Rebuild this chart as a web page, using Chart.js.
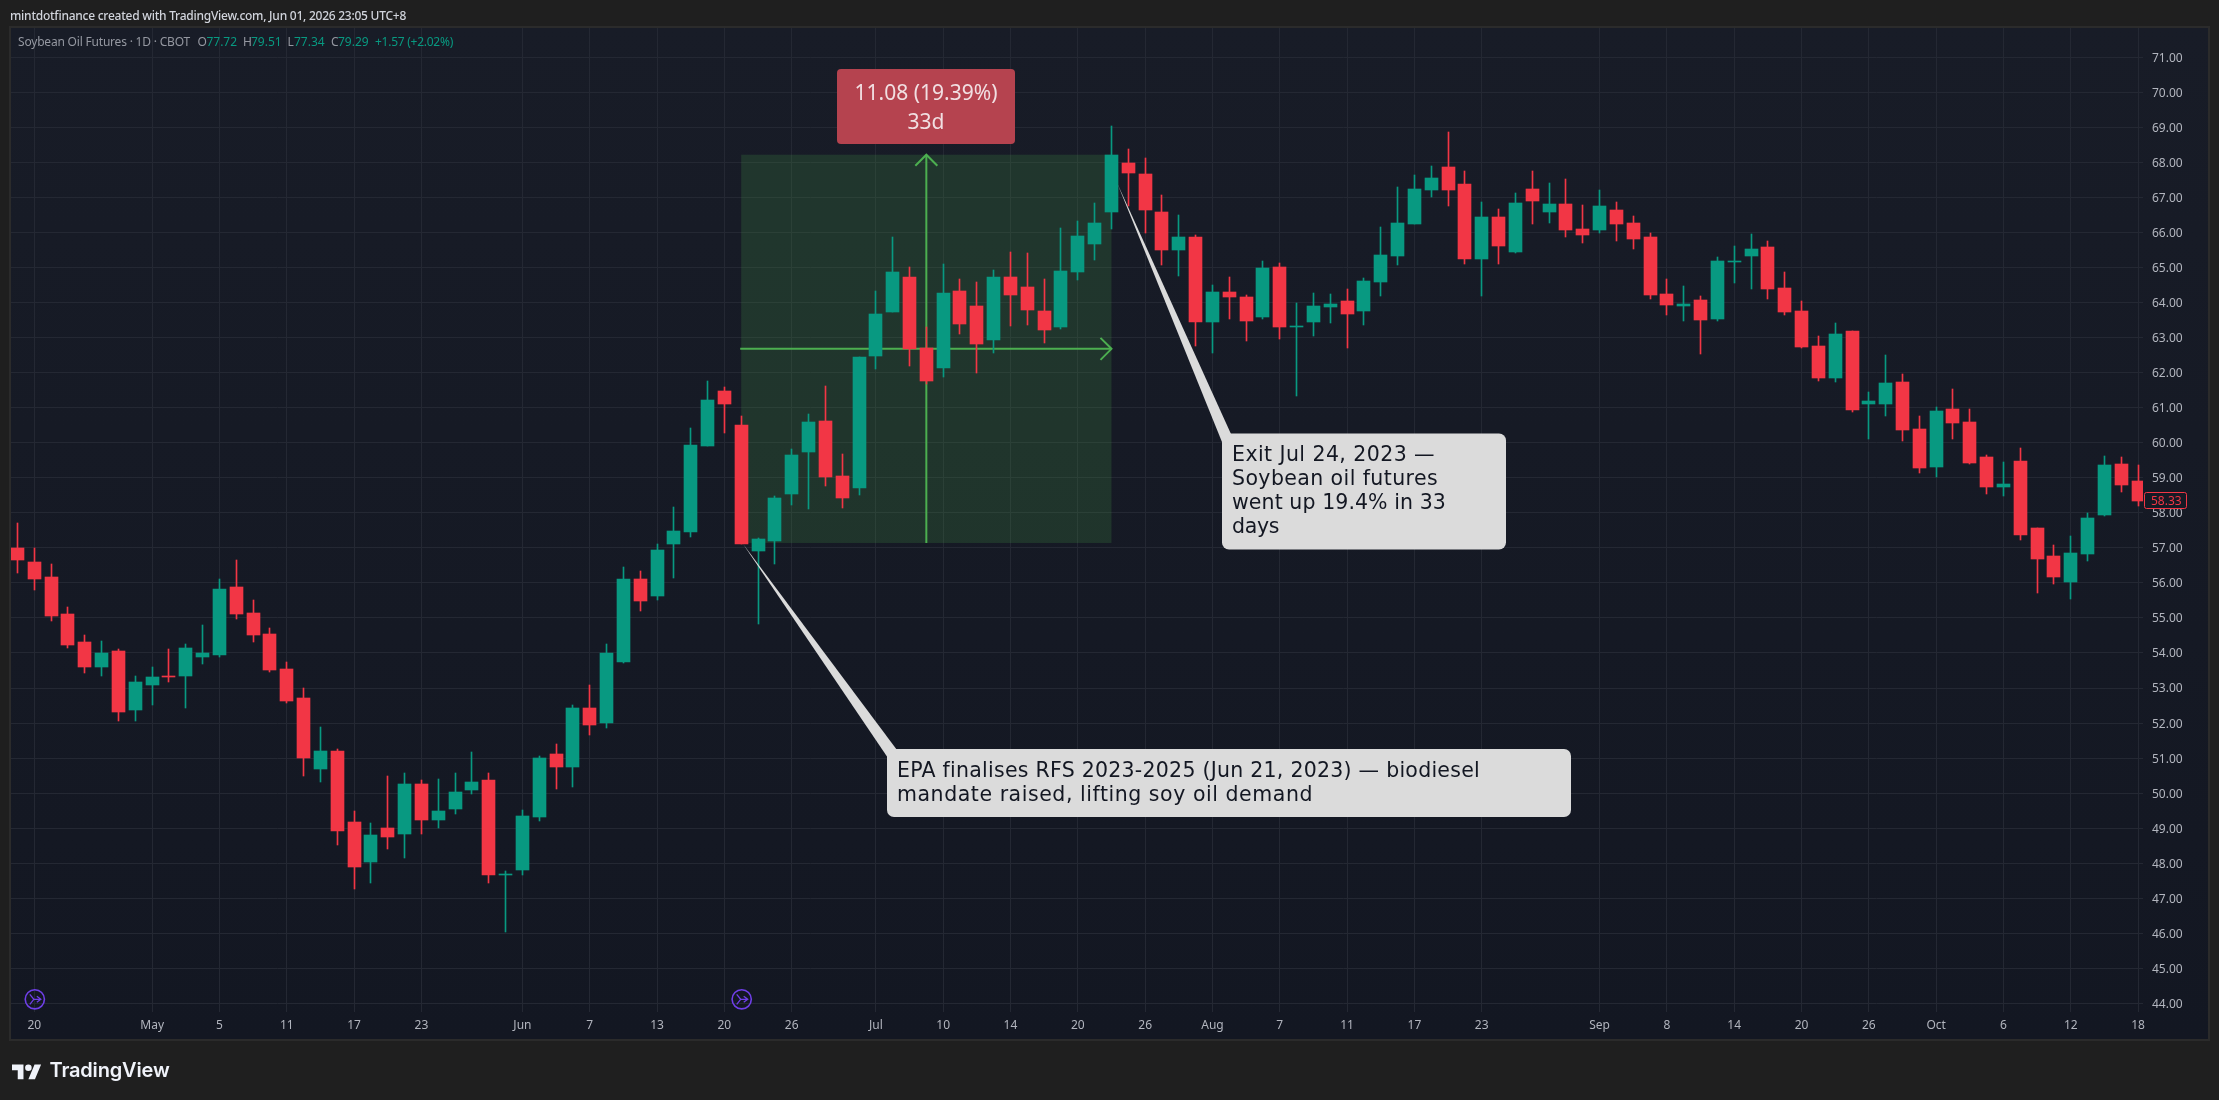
<!DOCTYPE html>
<html><head><meta charset="utf-8">
<style>html,body{margin:0;padding:0;background:#1f1f1f;overflow:hidden}#wrap{width:2219px;height:1100px;position:relative}canvas{display:block}</style>
<script src="https://cdn.jsdelivr.net/npm/chart.js@4"></script>
</head><body><div id="wrap"><canvas id="c" width="2219" height="1100"></canvas></div>
<script>
const opens=[57.01,56.61,56.18,55.10,54.30,53.61,54.07,52.38,53.10,53.33,53.35,53.90,53.95,55.87,55.15,54.55,53.55,52.72,50.70,51.21,49.18,48.04,49.01,48.84,50.27,49.24,49.55,50.10,50.38,47.67,47.81,49.32,51.12,50.75,52.44,52.01,53.75,56.10,55.64,57.10,57.44,59.92,61.47,60.50,56.92,57.19,58.53,59.73,60.62,59.05,58.70,62.47,63.73,64.73,62.70,62.13,64.33,63.90,62.93,64.73,64.44,63.76,63.30,64.87,65.67,66.58,67.98,67.67,66.58,65.50,65.87,63.44,64.30,64.16,63.59,65.01,63.30,63.44,63.87,64.04,63.76,64.59,65.33,66.24,67.21,67.87,67.38,65.24,66.44,65.44,67.24,66.58,66.81,66.10,66.07,66.64,66.27,65.87,64.24,63.90,64.07,63.53,65.16,65.33,65.58,64.41,63.76,62.76,61.85,63.19,61.10,61.10,61.73,60.39,59.30,60.96,60.59,59.59,58.73,59.48,57.56,56.76,56.02,56.82,57.93,59.39,58.90];
const highs=[57.72,57.01,56.55,55.30,54.50,54.35,54.12,53.35,53.61,54.12,54.27,54.81,56.10,56.64,55.50,54.72,53.75,53.01,51.90,51.27,49.50,49.15,50.50,50.58,50.38,50.41,50.58,51.18,50.58,47.79,49.52,51.07,51.41,52.52,53.10,54.27,56.44,56.35,57.10,58.18,60.41,61.75,61.58,60.75,57.29,58.48,59.82,60.82,61.62,59.67,62.45,64.33,65.87,65.01,63.30,65.10,64.67,64.58,64.93,65.44,65.41,64.67,66.13,66.33,66.84,69.04,68.38,68.12,67.07,66.50,65.93,64.50,64.73,64.21,65.18,65.13,63.99,64.27,64.24,64.38,64.70,66.16,67.30,67.64,67.90,68.87,67.75,66.87,66.67,67.13,67.75,67.41,67.53,66.78,67.21,66.87,66.47,65.98,64.67,64.47,64.19,65.31,65.62,65.96,65.76,64.87,64.04,63.05,63.42,63.19,61.45,62.50,61.96,60.76,61.02,61.53,60.96,59.65,59.45,59.85,57.56,57.08,57.33,57.99,59.62,59.59,59.36];
const lows=[56.27,55.81,54.90,54.15,53.44,53.35,52.07,52.07,52.52,53.18,52.44,53.70,53.90,54.98,54.30,53.47,52.58,50.50,50.32,48.52,47.27,47.44,48.41,48.15,48.84,49.01,49.41,49.98,47.44,46.04,47.67,49.21,50.12,50.18,51.67,51.87,53.72,55.21,55.50,56.15,57.32,59.92,60.27,57.10,54.84,56.55,58.22,58.10,58.76,58.13,58.50,62.10,63.72,62.19,61.67,61.87,63.10,61.99,62.56,63.33,63.36,62.84,63.24,64.64,65.21,66.10,66.75,65.98,65.07,64.76,62.76,62.56,63.53,62.90,63.53,62.96,61.33,63.04,63.41,62.70,63.36,64.19,65.07,66.24,67.01,66.75,65.10,64.19,65.10,65.41,66.24,66.27,65.87,65.70,65.98,65.76,65.53,64.10,63.64,63.47,62.53,63.47,64.56,64.39,64.10,63.64,62.70,61.76,61.73,60.88,60.10,60.76,60.05,59.13,59.02,60.10,59.39,58.53,58.48,57.22,55.70,55.96,55.53,56.62,57.90,58.59,58.19];
const closes=[56.64,56.10,55.07,54.24,53.61,54.01,52.32,53.18,53.32,53.31,54.15,54.00,55.84,55.12,54.52,53.52,52.64,51.01,51.21,48.92,47.90,48.81,48.75,50.27,49.24,49.50,50.04,50.32,47.67,47.70,49.35,51.01,50.75,52.44,51.95,54.01,56.10,55.47,56.95,57.47,59.95,61.21,61.12,57.12,57.24,58.42,59.65,60.59,59.02,58.42,62.44,63.67,64.87,62.67,61.76,64.27,63.39,62.81,64.73,64.21,63.79,63.21,64.90,65.90,66.27,68.21,67.70,66.64,65.50,65.87,63.44,64.30,64.16,63.47,64.98,63.30,63.33,63.90,63.96,63.67,64.61,65.36,66.27,67.24,67.55,67.21,65.24,66.44,65.61,66.84,66.90,66.81,66.07,65.93,66.75,66.24,65.81,64.21,63.93,63.96,63.50,65.18,65.19,65.53,64.39,63.73,62.73,61.85,63.10,60.93,61.19,61.70,60.36,59.28,60.90,60.56,59.42,58.73,58.82,57.36,56.68,56.16,56.85,57.85,59.36,58.79,58.33];
const xTickIndex=[1,8,12,16,20,24,30,34,38,42,46,51,55,59,63,67,71,75,79,83,87,94,98,102,106,110,114,118,122,126];
const xTickLabels=["20","May","5","11","17","23","Jun","7","13","20","26","Jul","10","14","20","26","Aug","7","11","17","23","Sep","8","14","20","26","Oct","6","12","18"];
const entryIndex=43, exitIndex=65, entryPrice=57.14, exitPrice=68.22;
const measureLines=["11.08 (19.39%)","33d"];
const exitNote=["Exit Jul 24, 2023 —","Soybean oil futures","went up 19.4% in 33","days"];
const epaNote=["EPA finalises RFS 2023-2025 (Jun 21, 2023) — biodiesel","mandate raised, lifting soy oil demand"];
const exitTip=[65.37,67.38], epaTip=[43.1,57.12];
const iconIndex=[1,43];

const UP='#089981', DOWN='#F23645', SANS='"Noto Sans"';
const color=i=>closes[i]>=opens[i]?UP:DOWN;
const wickData=highs.map((h,i)=>({x:i,y:[lows[i],h]}));
const bodyData=opens.map((o,i)=>({x:i,y:[o,closes[i]]}));

function fitText(ctx,text,x,y,w){
  ctx.letterSpacing='0px';
  const m=ctx.measureText(text).width;
  ctx.letterSpacing=((w-m)/text.length).toFixed(3)+'px';
  ctx.fillText(text,x,y);
  ctx.letterSpacing='0px';
}
function roundRect(ctx,x,y,w,h,r){ctx.beginPath();ctx.roundRect(x,y,w,h,r);}
function callout(ctx,box,tip,b1,b2,lines,widths,tx,base){
  ctx.fillStyle='#DBDBDB';
  ctx.beginPath();ctx.moveTo(tip[0],tip[1]);ctx.lineTo(b1[0],b1[1]);ctx.lineTo(b2[0],b2[1]);ctx.closePath();ctx.fill();
  roundRect(ctx,box[0],box[1],box[2],box[3],7);ctx.fill();
  ctx.fillStyle='#131722';ctx.font='20.5px "DejaVu Sans"';ctx.textAlign='left';ctx.textBaseline='alphabetic';
  lines.forEach((l,i)=>fitText(ctx,l,tx,base+24*i,widths[i]));
}
function arrowHead(ctx,x,y,dx,dy,s){
  ctx.beginPath();ctx.moveTo(x-dx*s-dy*s,y-dy*s-dx*s);ctx.lineTo(x,y);ctx.lineTo(x-dx*s+dy*s,y-dy*s+dx*s);ctx.stroke();
}

const frame={id:'frame',
  beforeDraw(ch){
    const c=ch.ctx;c.save();
    c.fillStyle='#1F1F1F';c.fillRect(0,0,2219,1100);
    c.fillStyle='#2B2B2B';c.fillRect(9,26,2201,1015);
    const g=c.createLinearGradient(0,28,0,1039);g.addColorStop(0,'#181C27');g.addColorStop(1,'#131722');
    c.fillStyle=g;c.fillRect(11,28,2197,1011);
    c.restore();
  },
  afterDatasetsUpdate(ch){
    ch.data.datasets.forEach((d,k)=>ch.getDatasetMeta(k).data.forEach(el=>{
      el.x=Math.floor(el.x)+.5;el.y=Math.round(el.y);el.base=Math.round(el.base);
      if(Math.abs(el.y-el.base)<1){el.base=el.y+1;}
      el.height=el.base-el.y;
    }));
  },
  beforeDatasetsDraw(ch){
    const c=ch.ctx,X=ch.scales.x,Y=ch.scales.y;
    const l=X.getPixelForValue(entryIndex),r=X.getPixelForValue(exitIndex),t=Y.getPixelForValue(exitPrice),b=Y.getPixelForValue(entryPrice);
    const mx=X.getPixelForValue((entryIndex+exitIndex)/2),my=Y.getPixelForValue((entryPrice+exitPrice)/2);
    c.save();
    c.fillStyle='rgba(76,175,80,0.18)';c.fillRect(l,t,r-l,b-t);
    c.strokeStyle='#4CAF50';c.lineWidth=2;c.lineJoin='miter';
    c.beginPath();c.moveTo(l-1,my);c.lineTo(r,my);c.stroke();
    c.beginPath();c.moveTo(mx,b);c.lineTo(mx,t);c.stroke();
    arrowHead(c,r,my,1,0,11);arrowHead(c,mx,t,0,-1,11);
    c.restore();
  },
  afterDatasetsDraw(ch){
    const c=ch.ctx,X=ch.scales.x,Y=ch.scales.y;
    c.save();
    // measurement label
    c.fillStyle='#B5434F';roundRect(c,837,69,178,75,4);c.fill();
    c.fillStyle='#F1DFE2';c.font='21px '+SANS;c.textAlign='center';c.textBaseline='alphabetic';
    c.fillText(measureLines[0],926,99.5);c.fillText(measureLines[1],926,129);
    // callouts
    callout(c,[1222,433.5,284,116],[X.getPixelForValue(exitTip[0]),Y.getPixelForValue(exitTip[1])],[1231,434],[1222,442],exitNote,[203,206,214,47],1232,461);
    callout(c,[887,749,684,68],[X.getPixelForValue(epaTip[0]),Y.getPixelForValue(epaTip[1])],[897,750],[888,758],epaNote,[583,416],897,776.5);
    // date-range icons
    iconIndex.forEach(i=>{
      const x=X.getPixelForValue(i)+.5,y=999.3;
      c.strokeStyle='#6F3FE8';c.lineWidth=1.6;
      c.beginPath();c.arc(x,y,9.6,0,Math.PI*2);c.stroke();
      c.lineWidth=1.3;
      c.beginPath();c.moveTo(x-5,y-5);c.lineTo(x-1,y);c.lineTo(x-5,y+5);c.moveTo(x-1,y);c.lineTo(x+6,y);c.moveTo(x+2,y-3);c.lineTo(x+6,y);c.lineTo(x+2,y+3);c.stroke();
    });
    // last price tag
    const ly=Y.getPixelForValue(closes[closes.length-1]);
    c.fillStyle='#161A25';c.strokeStyle=DOWN;c.lineWidth=1;roundRect(c,2144.5,Math.round(ly)-8.5,42,16,2);c.fill();c.stroke();
    c.fillStyle=DOWN;c.font='12px '+SANS;c.textAlign='left';c.textBaseline='middle';
    c.fillText(closes[closes.length-1].toFixed(2),2151,Math.round(ly)+.5);
    // header
    c.textBaseline='alphabetic';c.textAlign='left';
    c.fillStyle='#D1D4DC';c.font='500 12px '+SANS;
    fitText(c,'mintdotfinance created with TradingView.com, Jun 01, 2026 23:05 UTC+8',10,20,396);
    // legend
    c.font='12px '+SANS;
    const gr='#9598A1';
    c.fillStyle=gr;fitText(c,'Soybean Oil Futures · 1D · CBOT',18,46,172);
    [['O',197.5,gr],['77.72',206.4,UP],['H',243,gr],['79.51',251,UP],['L',287.5,gr],['77.34',294,UP],['C',331,gr],['79.29',338,UP]].forEach(s=>{c.fillStyle=s[2];c.fillText(s[0],s[1],46);});
    c.fillStyle=UP;fitText(c,'+1.57 (+2.02%)',375,46,78);
    // brand
    c.save();c.translate(12,1059.5);c.scale(0.82,0.82);c.fillStyle='#F0F3FA';
    c.fill(new Path2D('M14 24H7V13H0V6h14v18zM28 24h-8l7.5-18h8L28 24z'));
    c.beginPath();c.arc(20,10,4,0,Math.PI*2);c.fill();c.restore();
    c.fillStyle='#F0F3FA';c.font='600 20px Inter';fitText(c,'TradingView',49.5,1077,120);
    c.restore();
  }
};

new Chart(document.getElementById('c'),{
  type:'bar',
  data:{datasets:[
    {data:wickData,barThickness:1,grouped:false,backgroundColor:wickData.map((_,i)=>color(i)),borderWidth:0,order:2},
    {data:bodyData,barThickness:13,grouped:false,backgroundColor:bodyData.map((_,i)=>color(i)),borderWidth:0,order:1}
  ]},
  plugins:[frame],
  options:{
    responsive:false,animation:false,events:[],
    layout:{padding:{left:11,top:28,right:0,bottom:0}},
    plugins:{legend:{display:false},tooltip:{enabled:false},title:{display:false}},
    scales:{
      x:{type:'linear',offset:false,min:-0.386,max:126.29,position:'bottom',
        grid:{offset:false,color:'#242833',lineWidth:1,drawTicks:false},border:{display:false},
        afterBuildTicks(s){s.ticks=xTickIndex.map(v=>({value:v}));},
        afterFit(s){s.height=88;},
        ticks:{autoSkip:false,maxRotation:0,minRotation:0,padding:6,color:'#B2B5BE',font:{family:'"Noto Sans"',size:12},
          callback(v){const k=xTickIndex.indexOf(v);return k<0?'':xTickLabels[k];}}
      },
      y:{type:'linear',position:'right',min:43.755,max:71.836,
        grid:{color:'#242833',lineWidth:1,drawTicks:false},border:{display:false},
        afterFit(s){s.width=76;},
        ticks:{stepSize:1,includeBounds:false,padding:9,labelOffset:1,color:'#B2B5BE',font:{family:'"Noto Sans"',size:12},
          callback(v){return Number(v).toFixed(2);}}
      }
    }
  }
});
</script></body></html>
